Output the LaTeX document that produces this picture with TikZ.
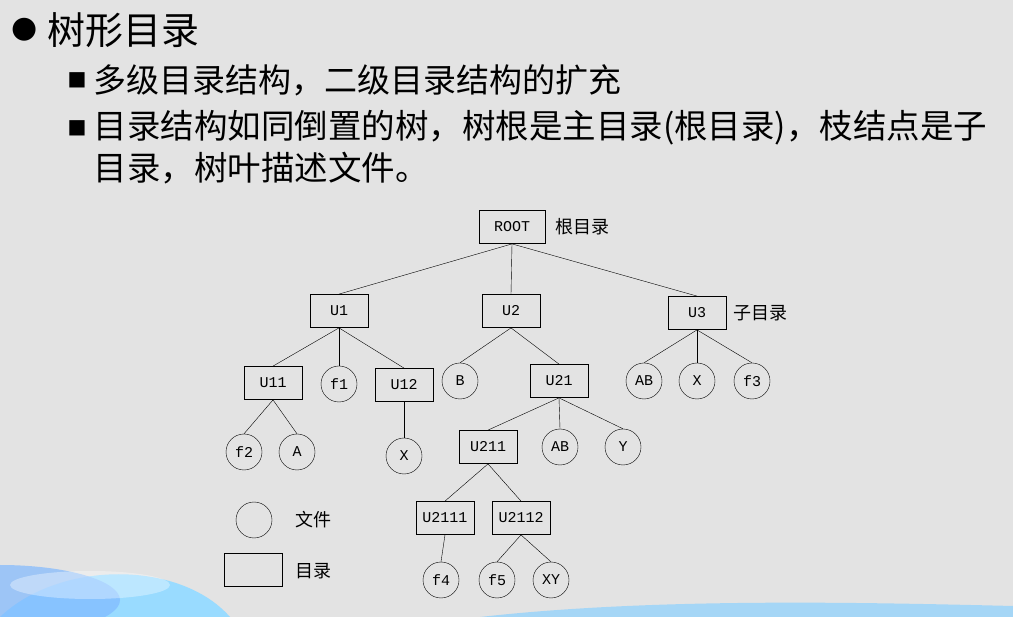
\documentclass[tikz,border=0pt]{standalone}
\usepackage{fontspec}
\setmainfont{Noto Sans CJK SC}
\newfontfamily\treefont{Liberation Mono}
\newfontfamily\symfont{DejaVu Sans}
\begin{document}
\begin{tikzpicture}[x=1pt,y=-1pt,
  dirbox/.style={draw,thick,minimum width=58pt,minimum height=33pt,inner sep=0pt,font=\treefont\fontsize{15}{15}\selectfont},
  filecirc/.style={draw,circle,minimum size=36pt,inner sep=0pt,font=\treefont\fontsize{15}{15}\selectfont},
  tag/.style={anchor=west,font=\fontsize{18}{18}\selectfont}]
  \fill[gray!22] (0,0) rectangle (1013,617);
  \useasboundingbox (0,0) rectangle (1013,617);
  % decoration
  \fill[blue!35!cyan!40] (0,617) .. controls (60,560) and (180,560) .. (230,617) -- cycle;
  \fill[blue!55!cyan!50,opacity=0.7] (0,600) ellipse [x radius=120pt,y radius=35pt];
  \fill[white,opacity=0.35] (90,585) ellipse [x radius=80pt,y radius=14pt];
  \fill[blue!40!cyan!45,opacity=0.7] (480,617) .. controls (650,598) and (850,602) .. (1013,606) -- (1013,617) -- cycle;
  % text
  \node[anchor=west] at (8,30) {\symfont\fontsize{30}{30}\selectfont ●};
  \node[anchor=west] at (44,30) {\fontsize{38}{38}\selectfont 树形目录};
  \node[anchor=west] at (64,80) {\symfont\fontsize{20}{20}\selectfont ■};
  \node[anchor=west] at (90,80) {\fontsize{33}{33}\selectfont 多级目录结构，二级目录结构的扩充};
  \node[anchor=west] at (64,128) {\symfont\fontsize{20}{20}\selectfont ■};
  \node[anchor=west] at (90,128) {\fontsize{33.5}{33.5}\selectfont 目录结构如同倒置的树，树根是主目录(根目录)，枝结点是子};
  \node[anchor=west] at (90,168) {\fontsize{33.5}{33.5}\selectfont 目录，树叶描述文件。};
  % tree
  \node[dirbox,minimum width=66pt] (root) at (512,227) {ROOT};
  \node[tag] at (552,227) {根目录};
  \node[dirbox] (u1) at (339,311) {U1};
  \node[dirbox] (u2) at (511,311) {U2};
  \node[dirbox] (u3) at (697,313) {U3};
  \node[tag] at (730,313) {子目录};
  \node[dirbox] (u11) at (273,383) {U11};
  \node[filecirc] (f1) at (339,384) {f1};
  \node[dirbox] (u12) at (404,385) {U12};
  \node[filecirc] (b) at (460,381) {B};
  \node[dirbox] (u21) at (559,381) {U21};
  \node[filecirc] (ab1) at (644,381) {AB};
  \node[filecirc] (x1) at (697,381) {X};
  \node[filecirc] (f3) at (752,381) {f3};
  \node[filecirc] (f2) at (244,452) {f2};
  \node[filecirc] (a) at (297,452) {A};
  \node[filecirc] (x2) at (404,456) {X};
  \node[dirbox] (u211) at (488,447) {U211};
  \node[filecirc] (ab2) at (560,447) {AB};
  \node[filecirc] (y) at (623,447) {Y};
  \node[dirbox] (u2111) at (445,518) {U2111};
  \node[dirbox] (u2112) at (521,518) {U2112};
  \node[filecirc] (f4) at (441,580) {f4};
  \node[filecirc] (f5) at (497,580) {f5};
  \node[filecirc] (xy) at (551,580) {XY};
  \foreach \p/\c in {root/u1,root/u2,root/u3,u1/u11,u1/f1,u1/u12,u2/b,u2/u21,
    u11/f2,u11/a,u12/x2,u21/u211,u21/ab2,u21/y,u211/u2111,u211/u2112,
    u2111/f4,u2112/f5,u2112/xy,u3/ab1,u3/x1,u3/f3}
    \draw (\p.south) -- (\c.north);
  % legend
  \node[filecirc] (lfile) at (254,520) {};
  \node[tag] at (292,520) {文件};
  \node[dirbox] (ldir) at (253,570) {};
  \node[tag] at (292,571) {目录};
\end{tikzpicture}
\end{document}
